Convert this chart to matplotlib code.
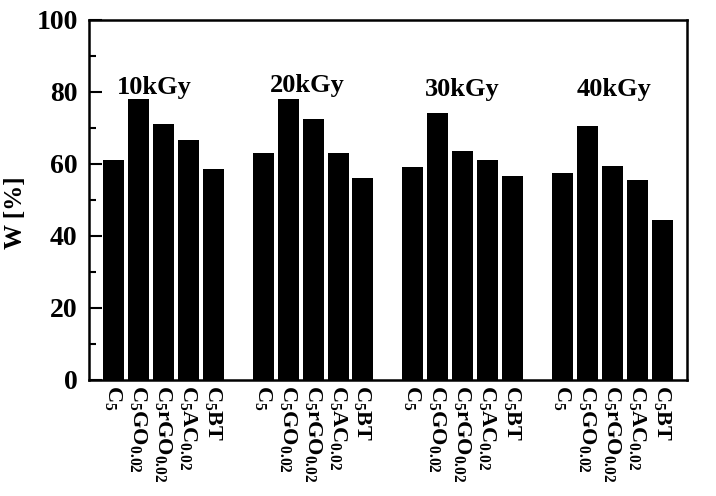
import matplotlib
matplotlib.use("Agg")
import matplotlib.pyplot as plt
import numpy as np
from matplotlib.ticker import MultipleLocator

plt.rcParams['font.family'] = ['Liberation Serif']
plt.rcParams['font.weight'] = 'bold'
plt.rcParams['mathtext.fontset'] = 'custom'
plt.rcParams['mathtext.rm'] = 'Liberation Serif:bold'
plt.rcParams['mathtext.it'] = 'Liberation Serif:bold'
plt.rcParams['mathtext.bf'] = 'Liberation Serif:bold'
plt.rcParams['mathtext.default'] = 'rm'

doses = ["10kGy", "20kGy", "30kGy", "40kGy"]
materials = [r"C$_5$", r"C$_5$GO$_{0.02}$", r"C$_5$rGO$_{0.02}$", r"C$_5$AC$_{0.02}$", r"C$_5$BT"]
w_10 = [61, 78, 71, 66.5, 58.5]
w_20 = [63, 78, 72.5, 63, 56]
w_30 = [59, 74, 63.5, 61, 56.5]
w_40 = [57.5, 70.5, 59.5, 55.5, 44.5]
series = [w_10, w_20, w_30, w_40]
label_x = [1.62, 7.76, 13.98, 20.08]
label_y = [79.4, 80.0, 78.8, 78.8]

fig = plt.figure(figsize=(7.16, 4.96), dpi=100)
ax = fig.add_axes([0.124, 0.234, 0.8355, 0.726])

pos, labs = [], []
for g, vals in enumerate(series):
    x = np.arange(len(vals)) + g * 6
    ax.bar(x, vals, width=0.84, color='black')
    pos.extend(x)
    labs.extend(materials)
    ax.text(label_x[g], label_y[g], doses[g], ha='center', va='baseline', fontsize=19, fontweight='bold')

ax.set_xlim(-1, 23)
ax.set_ylim(0, 100)
ax.set_xticks(pos)
ax.set_xticklabels(labs, rotation=-90, va='top', ha='center', fontsize=16)
ax.tick_params(axis='x', length=0, pad=4)
ax.yaxis.set_major_locator(MultipleLocator(20))
ax.yaxis.set_minor_locator(MultipleLocator(10))
ax.tick_params(axis='y', which='major', direction='in', length=9, width=1.5, labelsize=20, pad=8)
ax.tick_params(axis='y', which='minor', direction='in', length=5, width=1.5)
for s in ax.spines.values():
    s.set_linewidth(1.8)
ax.set_ylabel("W [%]", fontsize=18, fontweight='bold')
ax.yaxis.set_label_coords(-0.104, 0.464)

fig.savefig("out.png", dpi=100)
